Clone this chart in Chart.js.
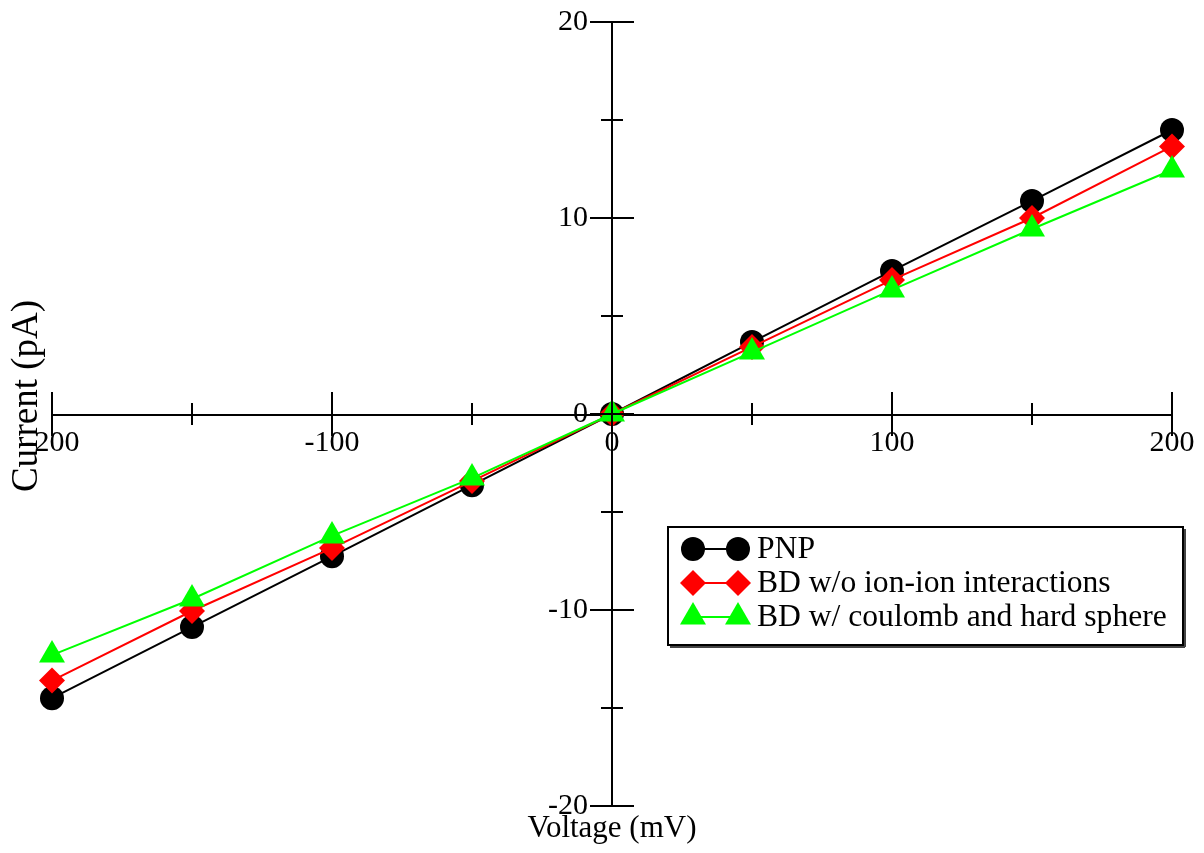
<!DOCTYPE html>
<html>
<head>
<meta charset="utf-8">
<script src="https://cdn.jsdelivr.net/npm/chart.js@4/dist/chart.umd.min.js"></script>
<style>
html,body{margin:0;padding:0;background:#fff;}
#wrap{width:1204px;height:853px;position:relative;}
</style>
</head>
<body>
<div id="wrap"><canvas id="c" width="1204" height="853"></canvas></div>
<script>
const voltages = [-200, -150, -100, -50, 0, 50, 100, 150, 200];
const pnp = [-14.5, -10.87, -7.26, -3.63, 0, 3.67, 7.30, 10.87, 14.49];
const bdNoInteractions = [-13.6, -10.05, -6.84, -3.42, 0, 3.42, 6.84, 10.0, 13.65];
const bdCoulombHS = [-12.3, -9.44, -6.22, -3.27, 0, 3.16, 6.33, 9.44, 12.45];
const xTicks = [-200, -100, 0, 100, 200];
const yTicks = [-20, -10, 0, 10, 20];
const seriesNames = ['PNP', 'BD w/o ion-ion interactions', 'BD w/ coulomb and hard sphere'];
const xTitle = 'Voltage (mV)';
const yTitle = 'Current (pA)';

const FONT = '"Liberation Serif", "DejaVu Serif", serif';

function pts(arr){ return voltages.map((v,i)=>({x:v,y:arr[i]})); }

const styles = [
  {color:'#000000', pointStyle:'circle', radius:12},
  {color:'#ff0000', pointStyle:'rectRot', radius:13},
  {color:'#00ff00', pointStyle:'triangle', radius:15}
];
const data = [pnp, bdNoInteractions, bdCoulombHS];

const datasets = data.map((arr,i)=>({
  label: seriesNames[i],
  data: pts(arr),
  borderColor: styles[i].color,
  backgroundColor: styles[i].color,
  borderWidth: 2,
  pointStyle: styles[i].pointStyle,
  pointRadius: styles[i].radius,
  pointBorderWidth: 0,
  pointBackgroundColor: styles[i].color,
  pointBorderColor: styles[i].color,
  showLine: true,
  tension: 0,
  clip: false,
  order: 3 - i
}));

const crossTicks = {
  id: 'crossTicks',
  afterDraw(chart){
    const ctx = chart.ctx;
    const xs = chart.scales.x, ys = chart.scales.y;
    const x0 = xs.getPixelForValue(0), y0 = ys.getPixelForValue(0);
    ctx.save();
    ctx.strokeStyle = '#000';
    ctx.lineWidth = 2;
    for (let v = -200; v <= 200; v += 50) {
      const px = xs.getPixelForValue(v);
      const L = (v % 100 === 0) ? 22 : 11;
      ctx.beginPath(); ctx.moveTo(px, y0 - L); ctx.lineTo(px, y0 + L); ctx.stroke();
    }
    for (let v = -20; v <= 20; v += 5) {
      const py = ys.getPixelForValue(v);
      const L = (v % 10 === 0) ? 22 : 11;
      ctx.beginPath(); ctx.moveTo(x0 - L, py); ctx.lineTo(x0 + L, py); ctx.stroke();
    }
    // axis titles
    ctx.fillStyle = '#000';
    ctx.textAlign = 'center';
    ctx.textBaseline = 'middle';
    ctx.font = '31px ' + FONT;
    ctx.fillText(xTitle, x0, 829);
    ctx.save();
    ctx.translate(27, 396);
    ctx.rotate(-Math.PI/2);
    ctx.font = '37px ' + FONT;
    ctx.fillText(yTitle, 0, 0);
    ctx.restore();
    // legend
    const bx = 668, by = 527, bw = 515, bh = 118;
    ctx.fillStyle = '#fff';
    ctx.fillRect(bx, by, bw, bh);
    ctx.strokeStyle = '#000';
    ctx.lineWidth = 2;
    ctx.strokeRect(bx, by, bw, bh);
    ctx.fillStyle = '#444';
    ctx.fillRect(bx + 2, by + bh + 1, bw, 2);
    ctx.fillRect(bx + bw + 1, by + 2, 2, bh);
    const rows = [549, 583, 617];
    datasets.forEach((ds, i) => {
      const y = rows[i];
      ctx.strokeStyle = ds.borderColor;
      ctx.lineWidth = 2;
      ctx.beginPath(); ctx.moveTo(693, y); ctx.lineTo(738, y); ctx.stroke();
      const opts = {pointStyle: ds.pointStyle, radius: ds.pointRadius, borderWidth: 0};
      ctx.fillStyle = ds.backgroundColor;
      ctx.strokeStyle = ds.backgroundColor;
      Chart.helpers.drawPoint(ctx, opts, 693, y);
      Chart.helpers.drawPoint(ctx, opts, 738, y);
      ctx.fillStyle = '#000';
      ctx.font = '31.6px ' + FONT;
      ctx.textAlign = 'left';
      ctx.textBaseline = 'middle';
      ctx.fillText(ds.label, 757, y + 1);
    });
    ctx.restore();
  }
};

function noPad(s){ s.paddingTop = 0; s.paddingBottom = 0; s.paddingLeft = 0; s.paddingRight = 0; }

new Chart(document.getElementById('c'), {
  type: 'scatter',
  data: { datasets },
  options: {
    responsive: false,
    animation: false,
    layout: { padding: { left: 52, right: 32, top: 22, bottom: 47 } },
    plugins: { legend: { display: false }, tooltip: { enabled: false } },
    scales: {
      x: {
        type: 'linear', position: 'center', min: -200, max: 200,
        afterBuildTicks(s){ s.ticks = xTicks.map(v=>({value:v})); },
        afterFit: noPad,
        grid: { display: true, drawOnChartArea: false, drawTicks: false, color: 'rgba(0,0,0,0)' },
        border: { display: true, color: '#000', width: 2 },
        ticks: { color: '#000', font: { family: FONT, size: 30 }, padding: 11, maxRotation: 0, autoSkip: false }
      },
      y: {
        type: 'linear', position: 'center', min: -20, max: 20,
        afterBuildTicks(s){ s.ticks = yTicks.map(v=>({value:v})); },
        afterFit: noPad,
        grid: { display: true, drawOnChartArea: false, drawTicks: false, color: 'rgba(0,0,0,0)' },
        border: { display: true, color: '#000', width: 2 },
        ticks: { color: '#000', font: { family: FONT, size: 30 }, padding: 24, autoSkip: false }
      }
    }
  },
  plugins: [crossTicks]
});
</script>
</body>
</html>
